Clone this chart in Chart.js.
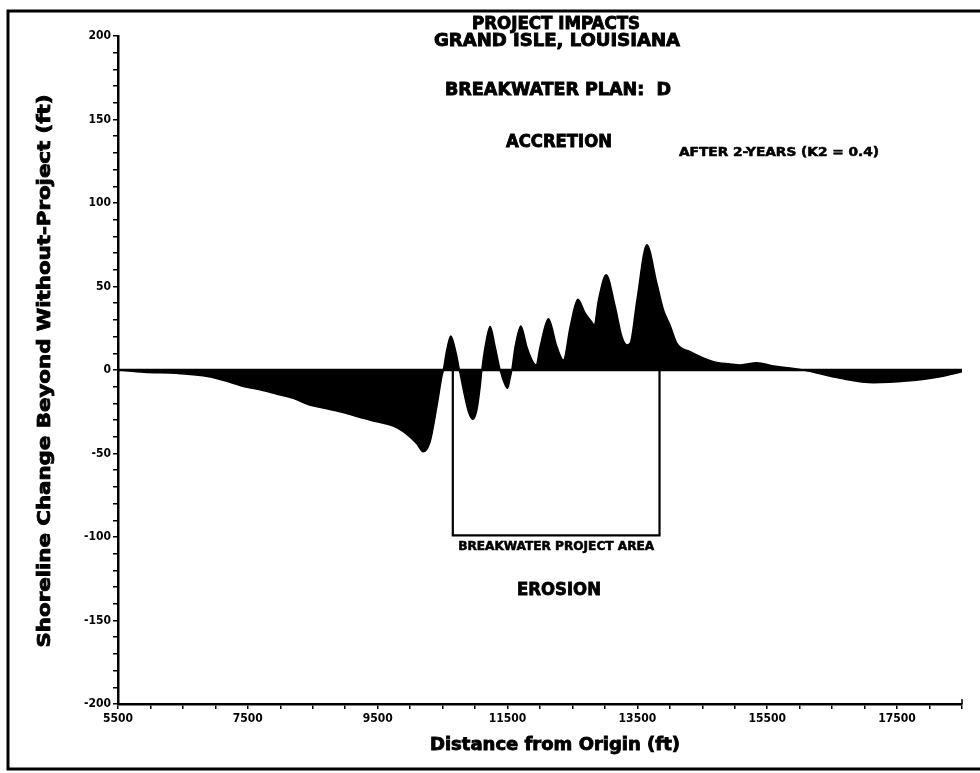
<!DOCTYPE html>
<html><head><meta charset="utf-8">
<script src="https://cdn.jsdelivr.net/npm/chart.js@4/dist/chart.umd.min.js"></script>
<style>html,body{margin:0;padding:0;background:#fff}#wrap{width:980px;height:773px;position:relative}</style>
</head><body><div id="wrap"><canvas id="c" width="980" height="773"></canvas></div>
<script>
// ---- data ----
const distanceFt = [5500,5900,6400,6900,7200,7450,7700,7950,8200,8450,8700,8970,9230,9490,9740,9900,10100,10200,10307,10411,10488,10512,10554,10626,10708,10759,10820,10898,10965,11027,11078,11104,11155,11232,11309,11386,11463,11498,11540,11566,11617,11705,11797,11899,11941,12002,12130,12260,12361,12465,12583,12696,12784,12835,12901,13019,13158,13261,13338,13389,13492,13646,13800,13902,14005,14109,14314,14673,14930,15084,15341,15597,15854,16059,16625,17138,17652,18166,18500];
const shorelineChangeFt = [0,-1.4,-2,-4,-7,-10,-12,-14.5,-17,-21,-23,-25.5,-28.5,-31,-33.5,-37,-44,-49,-43,-22,-4,0,10,20.4,10,0,-12,-25,-29.5,-24,-10,0,14,26,14,0,-9,-11,-5,0,14,26.3,14,4.4,3,14,30.7,14,6,26,42.3,34,29.5,27,42,57,38,20,15,16,41.6,75,52,36,26.7,16,11,5,3.6,3,4.4,2.4,1.2,0,-5,-7.6,-6.6,-4,-1];
const xTickLabels = [5500,7500,9500,11500,13500,15500,17500];
const yTickLabels = [-200,-150,-100,-50,0,50,100,150,200];
const xRange = [5500, 18500];
const yRange = [-200, 200];
const xMinorStep = 500;
const yMinorStep = 10;
const projectAreaFt = [10657, 13841];
const projectAreaDepthFt = -99;
const titleLines = ['PROJECT IMPACTS', 'GRAND ISLE, LOUISIANA'];
const planLabel = 'BREAKWATER PLAN:  D';
const accretionLabel = 'ACCRETION';
const erosionLabel = 'EROSION';
const afterLabel = 'AFTER 2-YEARS (K2 = 0.4)';
const areaLabel = 'BREAKWATER PROJECT AREA';
const yTitle = 'Shoreline Change Beyond Without-Project (ft)';
const xTitle = 'Distance from Origin (ft)';

const FONT = '"DejaVu Sans Condensed","DejaVu Sans",sans-serif';

function fitText(ctx, text, cx, cy, size, targetWidth, rotate) {
  ctx.save();
  ctx.font = 'bold ' + size + 'px ' + FONT;
  ctx.fillStyle = '#000';
  ctx.strokeStyle = '#000';
  ctx.lineWidth = size > 14 ? 0.8 : 0.5;
  ctx.textAlign = 'center';
  ctx.textBaseline = 'middle';
  const w = ctx.measureText(text).width;
  ctx.translate(cx, cy);
  if (rotate) ctx.rotate(-Math.PI / 2);
  ctx.scale(targetWidth / w, 1);
  ctx.fillText(text, 0, 0);
  ctx.strokeText(text, 0, 0);
  ctx.restore();
}

const decor = {
  id: 'decor',
  afterDraw(chart) {
    const ctx = chart.ctx;
    const xs = chart.scales.x, ys = chart.scales.y;
    // outer frame
    ctx.save();
    ctx.strokeStyle = '#000';
    ctx.lineWidth = 3;
    ctx.beginPath();
    ctx.moveTo(980, 11); ctx.lineTo(8, 11); ctx.lineTo(8, 769); ctx.lineTo(980, 769);
    ctx.stroke();
    // small end tick at the right end of the x axis
    const xr = xs.getPixelForValue(xRange[1]), y0 = ys.getPixelForValue(yRange[0]);
    ctx.lineWidth = 1.5;
    ctx.beginPath(); ctx.moveTo(xr, y0); ctx.lineTo(xr, y0 - 5); ctx.stroke();
    ctx.restore();
    // titles and annotations
    fitText(ctx, titleLines[0], 556, 25, 17, 168);
    fitText(ctx, titleLines[1], 557, 42, 17, 246);
    fitText(ctx, planLabel, 558, 90, 18, 226);
    fitText(ctx, accretionLabel, 559, 142, 18, 106);
    fitText(ctx, afterLabel, 779, 153, 12, 200);
    const ax = (xs.getPixelForValue(projectAreaFt[0]) + xs.getPixelForValue(projectAreaFt[1])) / 2;
    fitText(ctx, areaLabel, ax, ys.getPixelForValue(projectAreaDepthFt) + 12, 12, 196);
    fitText(ctx, erosionLabel, 559, 590, 18, 84);
    fitText(ctx, yTitle, 45, 371, 18, 553, true);
    fitText(ctx, xTitle, 555, 745, 18, 250);
  }
};

const profile = distanceFt.map((x, i) => ({ x, y: shorelineChangeFt[i] }));
const zeroLine = [{ x: xRange[0], y: 0 }, { x: xRange[1], y: 0 }];
const areaBox = [
  { x: projectAreaFt[0], y: 0 }, { x: projectAreaFt[0], y: projectAreaDepthFt },
  { x: projectAreaFt[1], y: projectAreaDepthFt }, { x: projectAreaFt[1], y: 0 }
];

function rangeTicks(a, b, step) { const t = []; for (let v = a; v <= b + 1e-9; v += step) t.push({ value: v }); return t; }

new Chart(document.getElementById('c'), {
  type: 'line',
  data: {
    datasets: [
      { data: profile, borderColor: '#000', backgroundColor: '#000', fill: 'origin', pointRadius: 0, borderWidth: 1.5, cubicInterpolationMode: 'monotone' },
      { data: zeroLine, borderColor: '#000', borderWidth: 2.5, pointRadius: 0, fill: false },
      { data: areaBox, borderColor: '#000', borderWidth: 2.2, pointRadius: 0, fill: false, tension: 0 }
    ]
  },
  options: {
    responsive: false,
    devicePixelRatio: 1,
    animation: false,
    layout: { padding: { top: 36, right: 18, left: 0, bottom: 0 } },
    plugins: { legend: { display: false }, tooltip: { enabled: false }, title: { display: false } },
    scales: {
      x: {
        type: 'linear', min: xRange[0], max: xRange[1],
        afterBuildTicks: s => { s.ticks = rangeTicks(xRange[0], xRange[1], xMinorStep); },
        afterFit: s => { s.height = 69; },
        ticks: {
          autoSkip: false, maxRotation: 0, color: '#000', padding: 3,
          font: { family: FONT, weight: 'bold', size: 12 },
          callback: v => xTickLabels.includes(v) ? String(v) : ''
        },
        grid: { drawOnChartArea: false, drawTicks: true, tickLength: 5, color: '#000', lineWidth: 1.5 },
        border: { display: true, color: '#000', width: 2.5 }
      },
      y: {
        type: 'linear', min: yRange[0], max: yRange[1],
        afterBuildTicks: s => { s.ticks = rangeTicks(yRange[0], yRange[1], yMinorStep); },
        afterFit: s => { s.width = 118; },
        ticks: {
          autoSkip: false, color: '#000', padding: 2,
          font: { family: FONT, weight: 'bold', size: 12 },
          callback: v => yTickLabels.includes(v) ? String(v) : ''
        },
        grid: { drawOnChartArea: false, drawTicks: true, tickLength: 5, color: '#000', lineWidth: 1.5 },
        border: { display: true, color: '#000', width: 2.5 }
      }
    }
  },
  plugins: [decor]
});
</script></body></html>
